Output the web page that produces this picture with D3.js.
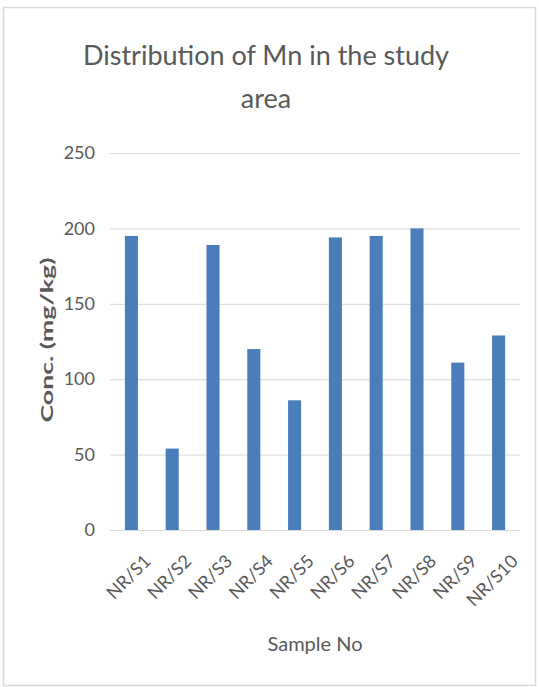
<!DOCTYPE html>
<html>
<head>
<meta charset="utf-8">
<script src="https://cdn.jsdelivr.net/npm/d3@7"></script>
<style>
  html, body { margin: 0; padding: 0; background: #fff; }
  svg { display: block; }
</style>
</head>
<body>
<svg id="chart" width="539" height="687"></svg>
<script>
// Mn concentration per sample (mg/kg)
const categories = ["NR/S1", "NR/S2", "NR/S3", "NR/S4", "NR/S5", "NR/S6", "NR/S7", "NR/S8", "NR/S9", "NR/S10"];
const mnValues = [195, 54, 189, 120, 86, 194, 195, 200, 111, 129];
const yTicks = [0, 50, 100, 150, 200, 250];
const titleLines = ["Distribution of Mn in the study", "area"];
const xTitle = "Sample No";
const yTitle = "Conc. (mg/kg)";

const FONT = "Lato, 'Open Sans', sans-serif";
const svg = d3.select("#chart");

// chart frame
svg.append("rect")
  .attr("x", 3.5).attr("y", 7.5)
  .attr("width", 532).attr("height", 678)
  .attr("fill", "#fff")
  .attr("stroke", "#d9d9d9").attr("stroke-width", 1.5);

const plot = { left: 111, right: 519, top: 153, bottom: 530 };

const x = d3.scaleBand()
  .domain(categories)
  .range([plot.left, plot.right])
  .paddingInner(0.68)
  .paddingOuter(0.34);

const y = d3.scaleLinear()
  .domain([0, 250])
  .range([plot.bottom, plot.top]);

// gridlines + y labels
const yAxis = d3.axisLeft(y)
  .tickValues(yTicks)
  .tickSize(-(plot.right - plot.left + 2))
  .tickPadding(15);

const gy = svg.append("g")
  .attr("transform", `translate(${plot.left - 1},0)`)
  .call(yAxis);
gy.select(".domain").remove();
gy.selectAll(".tick line").attr("stroke", "#d9d9d9").attr("stroke-width", 1);
gy.selectAll(".tick text")
  .attr("fill", "#595959")
  .attr("font-family", FONT)
  .attr("font-size", 18);

// bars
svg.append("g")
  .selectAll("rect")
  .data(mnValues)
  .join("rect")
  .attr("x", (d, i) => x(categories[i]))
  .attr("width", x.bandwidth())
  .attr("y", d => y(d))
  .attr("height", d => y(0) - y(d))
  .attr("fill", "#4a7ebb");

// x category labels, rotated
const xAxis = d3.axisBottom(x).tickSize(0).tickPadding(0);
const gx = svg.append("g")
  .attr("transform", `translate(0,${plot.bottom})`)
  .call(xAxis);
gx.select(".domain").remove();
gx.selectAll(".tick text")
  .attr("fill", "#595959")
  .attr("font-family", FONT)
  .attr("font-size", 18)
  .attr("text-anchor", "end")
  .attr("dy", "0.35em")
  .attr("transform", "translate(16,28) rotate(-45)");

// title
const title = svg.append("text")
  .attr("text-anchor", "middle")
  .attr("fill", "#595959")
  .attr("font-family", FONT)
  .attr("font-size", 27);
titleLines.forEach((t, i) => {
  title.append("tspan")
    .attr("x", 266)
    .attr("y", 65 + i * 43)
    .text(t);
});

// axis titles
svg.append("text")
  .attr("x", (plot.left + plot.right) / 2)
  .attr("y", 651)
  .attr("text-anchor", "middle")
  .attr("fill", "#595959")
  .attr("font-family", FONT)
  .attr("font-size", 20)
  .text(xTitle);

svg.append("text")
  .attr("transform", `translate(53,340) rotate(-90)`)
  .attr("text-anchor", "middle")
  .attr("fill", "#595959")
  .attr("font-family", FONT)
  .attr("font-weight", "bold")
  .attr("font-size", 17)
  .attr("textLength", 165)
  .attr("lengthAdjust", "spacingAndGlyphs")
  .text(yTitle);
</script>
</body>
</html>
